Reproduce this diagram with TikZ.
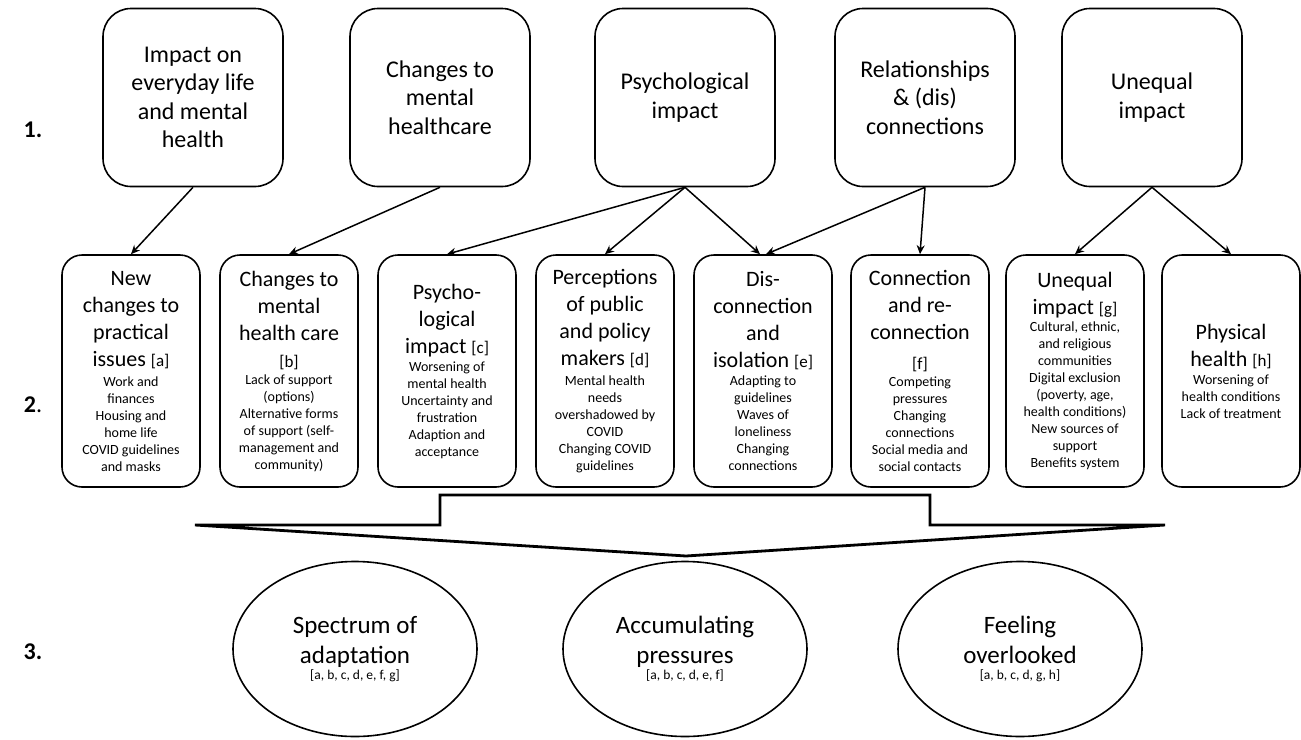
\documentclass[tikz,border=0pt]{standalone}
\usepackage{fontspec}
\setmainfont{Carlito}
\usetikzlibrary{arrows.meta,shapes.geometric}
\newcommand\ttl{\fontsize{22}{27}\selectfont}
\newcommand\sml{\fontsize{14}{17}\selectfont}
\newcommand\tg[1]{{\fontsize{17}{17}\selectfont[#1]}}
\newcommand\ovt{\fontsize{25}{30}\selectfont}
\newcommand\ovs{\fontsize{13.5}{16}\selectfont}
\tikzset{
 topbox/.style={draw, line width=1.6pt, rounded corners=28pt, minimum width=180pt, minimum height=178pt, text width=174pt, align=flush center, inner sep=0pt, font=\fontsize{24}{28.5}\selectfont},
 midbox/.style={draw, line width=1.6pt, rounded corners=20pt, minimum width=138pt, minimum height=232pt, text width=137pt, align=flush center, inner sep=0pt},
 oval/.style={draw, ellipse, line width=1.6pt, minimum width=244pt, minimum height=175pt, text width=160pt, align=flush center, inner sep=0pt},
 conn/.style={line width=1.5pt, -{Stealth[length=9pt,width=8pt]}},
 num/.style={font=\fontsize{24}{28}\selectfont\bfseries},
 bigarrow/.style={line width=2.8pt, line join=miter}
}
\begin{document}
\begin{tikzpicture}[x=1pt,y=-1pt]
\useasboundingbox (0,0) rectangle (1301,739);
% row labels
\node[num] (n1) at (33,130) {1.};
\node[num] (n2) at (33,405) {2\textmd{.}};
\node[num] (n3) at (33,652) {3.};
% top row
\node[topbox] (t1) at (193,97.5) {Impact on\\everyday life\\and mental\\health};
\node[topbox] (t2) at (440,97.5) {Changes to\\mental\\healthcare};
\node[topbox] (t3) at (685,97.5) {Psychological\\impact};
\node[topbox] (t4) at (925,97.5) {Relationships\\\& (dis)\\connections};
\node[topbox] (t5) at (1152,97.5) {Unequal\\impact};
% middle row
\node[midbox] (a) at (131,371) {{\ttl New\\changes to\\practical\\issues \tg{a}\par}\vskip3pt{\sml Work and\\finances\\Housing and\\home life\\COVID guidelines\\and masks\par}};
\node[midbox] (b) at (289,371) {{\ttl Changes to\\mental\\health care\\\tg{b}\par}{\sml Lack of support\\(options)\\Alternative forms\\of support (self-\\management and\\community)\par}};
\node[midbox] (c) at (447,371) {{\ttl Psycho-\\logical\\impact \tg{c}\par}\vskip1pt{\sml Worsening of\\mental health\\Uncertainty and\\frustration\\Adaption and\\acceptance\par}};
\node[midbox] (d) at (605,371) {{\ttl Perceptions\\of public\\and policy\\makers \tg{d}\par}\vskip3pt{\sml Mental health\\needs\\overshadowed by\\COVID\\Changing COVID\\guidelines\par}};
\node[midbox] (e) at (763,371) {{\ttl Dis-\\connection\\and\\isolation \tg{e}\par}\vskip1pt{\sml Adapting to\\guidelines\\Waves of\\loneliness\\Changing\\connections\par}};
\node[midbox] (f) at (920,371) {{\ttl Connection\\and re-\\connection\par}\vskip3pt{\ttl\tg{f}\par}{\sml Competing\\pressures\\Changing\\connections\\Social media and\\social contacts\par}};
\node[midbox] (g) at (1075,371) {{\ttl Unequal\\impact \tg{g}\par}{\sml Cultural, ethnic,\\and religious\\communities\\Digital exclusion\\(poverty, age,\\health conditions)\\New sources of\\support\\Benefits system\par}};
\node[midbox] (h) at (1231,371) {{\ttl Physical\\health \tg{h}\par}\vskip1pt{\sml Worsening of\\health conditions\\Lack of treatment\par}};
% connectors
\draw[conn] (t1.south) -- (a.north);
\draw[conn] (t2.south) -- (b.north);
\draw[conn] (t3.south) -- (c.north);
\draw[conn] (t3.south) -- (d.north);
\draw[conn] (t3.south) -- ([xshift=-3pt]e.north);
\draw[conn] (t4.south) -- ([xshift=3pt]e.north);
\draw[conn] (t4.south) -- (f.north);
\draw[conn] (t5.south) -- (g.north);
\draw[conn] (t5.south) -- (h.north);
% big arrow
\draw[bigarrow] (195,525) -- (440,525) -- (440,495) -- (930,495) -- (930,525) -- (1165,525) -- (686,556) -- cycle;
% bottom row
\node[oval] (s1) at (355,649) {{\ovt Spectrum of\\adaptation\par}{\ovs [a, b, c, d, e, f, g]\par}};
\node[oval] (s2) at (685,649) {{\ovt Accumulating\\pressures\par}{\ovs [a, b, c, d, e, f]\par}};
\node[oval] (s3) at (1020,649) {{\ovt Feeling\\overlooked\par}{\ovs [a, b, c, d, g, h]\par}};
\end{tikzpicture}
\end{document}
